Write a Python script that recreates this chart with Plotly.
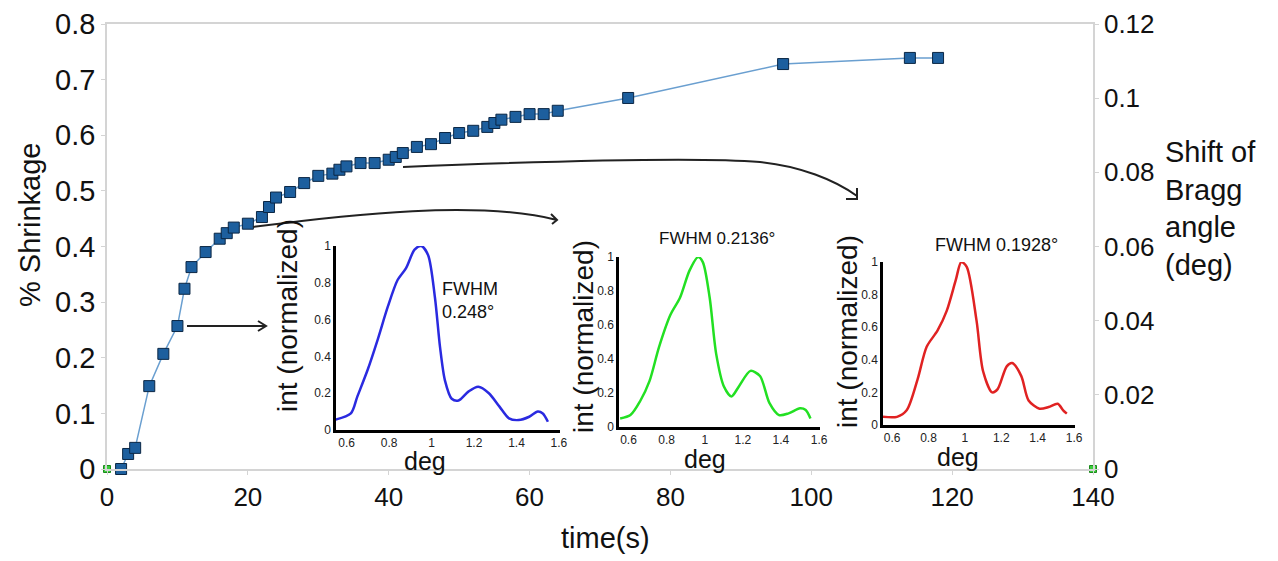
import plotly.graph_objects as go

# ---------------- data ----------------
time_s = [2, 3, 4, 6, 8, 10, 11, 12, 14, 16, 17, 18, 20, 22, 23, 24, 26, 28, 30, 32, 33, 34,
          36, 38, 40, 41, 42, 44, 46, 48, 50, 52, 54, 55, 56, 58, 60, 62, 64, 74, 96, 114, 118]
shrinkage = [0, 0.027, 0.038, 0.149, 0.207, 0.257, 0.324, 0.363, 0.39, 0.414, 0.424, 0.434,
             0.441, 0.453, 0.471, 0.488, 0.498, 0.514, 0.527, 0.531, 0.538, 0.544, 0.55, 0.55,
             0.556, 0.561, 0.568, 0.579, 0.584, 0.595, 0.604, 0.608, 0.615, 0.622, 0.628,
             0.633, 0.638, 0.638, 0.644, 0.667, 0.728, 0.739, 0.739]
bragg_time = [0, 140]
bragg_shift = [0, 0]

deg1 = [0.54, 0.62, 0.65, 0.70, 0.746, 0.794, 0.84, 0.88, 0.92, 0.952, 0.984, 1.016, 1.04,
        1.063, 1.095, 1.127, 1.175, 1.22, 1.27, 1.32, 1.365, 1.41, 1.46, 1.50, 1.524, 1.548]
int1 = [0.054, 0.09, 0.18, 0.33, 0.49, 0.67, 0.815, 0.88, 0.98, 1.0, 0.95, 0.72, 0.45,
        0.27, 0.17, 0.16, 0.21, 0.235, 0.2, 0.127, 0.063, 0.054, 0.072, 0.1, 0.09, 0.045]

deg2 = [0.556, 0.61, 0.66, 0.71, 0.76, 0.82, 0.87, 0.92, 0.965, 0.99, 1.026, 1.06, 1.10,
        1.14, 1.18, 1.24, 1.29, 1.34, 1.39, 1.44, 1.50, 1.53, 1.555]
int2 = [0.05, 0.07, 0.15, 0.27, 0.47, 0.66, 0.76, 0.92, 1.0, 0.97, 0.76, 0.43, 0.24,
        0.18, 0.24, 0.33, 0.30, 0.14, 0.07, 0.08, 0.11, 0.10, 0.05]

deg3 = [0.55, 0.627, 0.68, 0.74, 0.79, 0.85, 0.90, 0.95, 0.98, 1.01, 1.064, 1.10, 1.15,
        1.18, 1.23, 1.26, 1.31, 1.35, 1.41, 1.46, 1.51, 1.54, 1.56]
int3 = [0.05, 0.05, 0.09, 0.28, 0.48, 0.58, 0.70, 0.89, 1.0, 0.97, 0.64, 0.33, 0.2,
        0.22, 0.36, 0.38, 0.30, 0.15, 0.10, 0.11, 0.13, 0.09, 0.07]

x_ticks = [0, 20, 40, 60, 80, 100, 120, 140]
inset_labels = ["FWHM<br>0.248°", "FWHM 0.2136°", "FWHM 0.1928°"]

# ---------------- layout helpers (pixel -> paper) ----------------
PL, PR, PT, PB = 107, 1093, 24, 469
def px(x):
    return (x - PL) / (PR - PL)
def py(y):
    return (PB - y) / (PB - PT)

FONT = "Arial, 'Liberation Sans', sans-serif"
AX_GRAY = "#d4d4d4"

fig = go.Figure()

fig.add_trace(go.Scatter(
    x=time_s, y=shrinkage, mode="lines+markers",
    line=dict(color="#6a9fd0", width=1.5),
    marker=dict(symbol="square", size=11, color="#1d5f9e",
                line=dict(color="#0b2745", width=1)),
    cliponaxis=False, showlegend=False, xaxis="x", yaxis="y"))

fig.add_trace(go.Scatter(
    x=bragg_time, y=bragg_shift, mode="markers",
    marker=dict(symbol="square", size=7, color="#3ccc3c",
                line=dict(color="#1d8a1d", width=1)),
    cliponaxis=False, showlegend=False, xaxis="x", yaxis="y2"))

inset_colors = ["#2a2ae0", "#22e022", "#e02222"]
inset_data = [(deg1, int1), (deg2, int2), (deg3, int3)]
for i, ((d, v), c) in enumerate(zip(inset_data, inset_colors)):
    fig.add_trace(go.Scatter(
        x=d, y=v, mode="lines", line=dict(color=c, width=2.5, shape="spline", smoothing=0.8),
        showlegend=False, xaxis=f"x{i+3}", yaxis=f"y{i+3}"))

layout = dict(
    width=1278, height=561,
    margin=dict(l=PL, r=1278 - PR, t=PT, b=561 - PB, autoexpand=False),
    paper_bgcolor="white", plot_bgcolor="rgba(0,0,0,0)",
    font=dict(family=FONT, color="#111"),
    xaxis=dict(range=[0, 140], tickvals=x_ticks, showline=True, linecolor=AX_GRAY,
               linewidth=1.5, mirror=True, ticks="outside", ticklen=4, tickcolor=AX_GRAY,
               showgrid=False, zeroline=False, tickfont=dict(size=26)),
    yaxis=dict(range=[0, 0.8], dtick=0.1, showline=True, linecolor=AX_GRAY, linewidth=1.5,
               ticks="outside", ticklen=4, tickcolor=AX_GRAY, showgrid=False, zeroline=False,
               tickfont=dict(size=29)),
    yaxis2=dict(range=[0, 0.12], dtick=0.02, overlaying="y", side="right", showline=True,
                linecolor=AX_GRAY, linewidth=1.5, ticks="outside", ticklen=4,
                tickcolor=AX_GRAY, showgrid=False, zeroline=False, tickfont=dict(size=26)),
)

inset_px = [  # (x_left, x_right, y_bottom, y_top) in pixels
    (336, 560, 430, 246),
    (619, 820, 427, 257),
    (883, 1075, 425, 262),
]
tick_sizes = [12, 12, 12]
for i, (x0, x1, y0, y1) in enumerate(inset_px):
    n = i + 3
    layout[f"xaxis{n}"] = dict(
        domain=[px(x0), px(x1)], range=[0.55, 1.605], tick0=0.6, dtick=0.2,
        anchor=f"y{n}", showline=True, linecolor="black", linewidth=2.5, ticks="",
        showgrid=False, zeroline=False, tickfont=dict(size=tick_sizes[i], color="#222"))
    layout[f"yaxis{n}"] = dict(
        domain=[py(y0), py(y1)], range=[0, 1.0], dtick=0.2,
        anchor=f"x{n}", showline=True, linecolor="black", linewidth=2.5, ticks="",
        showgrid=False, zeroline=False, tickfont=dict(size=tick_sizes[i], color="#222"))

fig.update_layout(**layout)

ann = []
def text(x, y, t, size, angle=0, xanchor="center", align="center"):
    ann.append(dict(x=px(x), y=py(y), xref="paper", yref="paper", text=t, showarrow=False,
                    textangle=angle, xanchor=xanchor, yanchor="middle", align=align,
                    font=dict(size=size, family=FONT, color="#111")))

text(30, 225, "% Shrinkage", 29, angle=-90)
text(605, 538, "time(s)", 29)
text(1163, 208, "Shift of<br>Bragg<br>angle<br>(deg)", 29, xanchor="left", align="left")

for cx, cy in [(287, 316), (583, 337), (847, 332)]:
    text(cx, cy, "int (normalized)", 28, angle=-90)
for cx, cy in [(425, 461), (705, 459), (958, 457)]:
    text(cx, cy, "deg", 25)

text(470, 301, inset_labels[0], 18, align="left")
text(717, 238, inset_labels[1], 17)
text(996, 245, inset_labels[2], 18)

fig.update_layout(annotations=ann)

def P(x, y):
    return f"{px(x):.5f},{py(y):.5f}"

arrow_paths = [
    f"M {P(187,326)} L {P(265,326)} M {P(258,321)} L {P(266,326)} L {P(258,331)}",
    f"M {P(253,227)} C {P(350,214)} {P(480,200)} {P(557,220)} "
    f"M {P(551,214)} L {P(557,220)} L {P(552,224)}",
    f"M {P(403,167)} C {P(550,161)} {P(700,157)} {P(760,162)} "
    f"C {P(800,166)} {P(835,180)} {P(857,196)} "
    f"M {P(857,188)} L {P(857,199)} L {P(846,199)}",
]
shapes = []
for p in arrow_paths:
    shapes.append(dict(type="path", path=p, xref="paper", yref="paper",
                       line=dict(color="#222", width=2)))
fig.update_layout(shapes=shapes)

fig.write_html("out.html", config={"displayModeBar": False},
               post_script="document.body.style.margin='0';document.body.style.overflow='hidden';")
